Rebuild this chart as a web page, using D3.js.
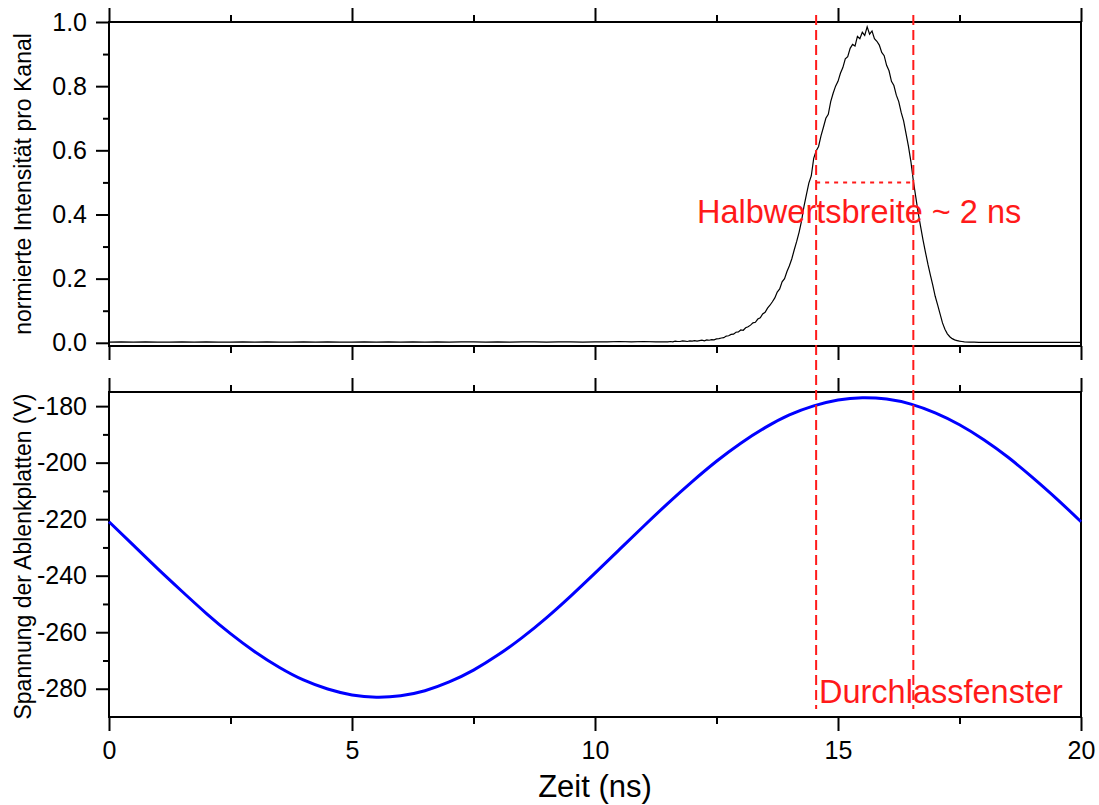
<!DOCTYPE html>
<html>
<head>
<meta charset="utf-8">
<script src="https://cdn.jsdelivr.net/npm/d3@7"></script>
<style>
  body { margin: 0; background: #fff; }
  svg { font-family: "Liberation Sans", Arial, sans-serif; }
</style>
</head>
<body>
<div id="chart"></div>
<script>
// Ticks
var timeTicks = [0, 5, 10, 15, 20];
var timeMinor = [2.5, 7.5, 12.5, 17.5];
var intensityTicks = [0, 0.2, 0.4, 0.6, 0.8, 1.0];
var intensityMinor = [0.1, 0.3, 0.5, 0.7, 0.9];
var voltageTicks = [-280, -260, -240, -220, -200, -180];
var voltageMinor = [-270, -250, -230, -210, -190];

// Durchlassfenster (ns) and half maximum
var windowTimes = [14.55, 16.55];
var halfMax = 0.5;

// Spannung der Ablenkplatten (V), every 0.5 ns
var voltageTime = [0, 0.5, 1, 1.5, 2, 2.5, 3, 3.5, 4, 4.5, 5, 5.5, 6, 6.5, 7, 7.5, 8, 8.5, 9, 9.5, 10,
                   10.5, 11, 11.5, 12, 12.5, 13, 13.5, 14, 14.5, 15, 15.5, 16, 16.5, 17, 17.5, 18, 18.5, 19, 19.5, 20];
var voltage = [-220.9, -229.2, -237.5, -245.5, -253.3, -260.5, -266.9, -272.4, -276.9, -280.1, -282.2,
               -283.0, -282.5, -280.7, -277.6, -273.4, -268.1, -261.9, -254.9, -247.2, -239.1,
               -230.8, -222.5, -214.4, -206.7, -199.5, -193.1, -187.6, -183.1, -179.9, -177.8,
               -177.0, -177.5, -179.3, -182.4, -186.6, -191.9, -198.1, -205.2, -212.8, -220.9];

// normierte Intensitaet: baseline part [t, I]
var baseline = [[0, 0.002], [0.25, 0.003], [0.5, 0.002], [0.75, 0.003], [1, 0.002], [1.25, 0.002], [1.5, 0.003],
  [1.75, 0.002], [2, 0.003], [2.25, 0.002], [2.5, 0.002], [2.75, 0.003], [3, 0.002], [3.25, 0.003], [3.5, 0.002],
  [3.75, 0.002], [4, 0.003], [4.25, 0.002], [4.5, 0.003], [4.75, 0.002], [5, 0.002], [5.25, 0.003], [5.5, 0.002],
  [5.75, 0.003], [6, 0.002], [6.25, 0.003], [6.5, 0.002], [6.75, 0.003], [7, 0.002], [7.25, 0.003], [7.5, 0.003],
  [7.75, 0.002], [8, 0.003], [8.25, 0.002], [8.5, 0.003], [8.75, 0.003], [9, 0.002], [9.25, 0.003], [9.5, 0.003],
  [9.75, 0.002], [10, 0.003], [10.25, 0.003], [10.5, 0.004], [10.75, 0.003], [11, 0.004], [11.25, 0.003]];

// normierte Intensitaet: pulse part [t, I]
var pulse = [[11.5, 0.003], [11.55, 0.004], [11.6, 0.003], [11.65, 0.005], [11.7, 0.004], [11.75, 0.004],
  [11.8, 0.006], [11.85, 0.005], [11.9, 0.004], [11.95, 0.006], [12, 0.005], [12.05, 0.007], [12.1, 0.005],
  [12.15, 0.007], [12.2, 0.008], [12.25, 0.006], [12.3, 0.009], [12.35, 0.008], [12.4, 0.010], [12.45, 0.009],
  [12.5, 0.012], [12.55, 0.013], [12.6, 0.015], [12.65, 0.016], [12.7, 0.021], [12.75, 0.022], [12.8, 0.026],
  [12.85, 0.027], [12.9, 0.033], [12.95, 0.034], [13, 0.040], [13.05, 0.039], [13.1, 0.047], [13.15, 0.050],
  [13.2, 0.055], [13.25, 0.062], [13.3, 0.064], [13.35, 0.074], [13.4, 0.078], [13.45, 0.090], [13.5, 0.095],
  [13.55, 0.108], [13.6, 0.117], [13.65, 0.128], [13.7, 0.140], [13.75, 0.158], [13.8, 0.168], [13.85, 0.190],
  [13.9, 0.200], [13.95, 0.222], [14, 0.240], [14.05, 0.262], [14.1, 0.290], [14.15, 0.316], [14.2, 0.345],
  [14.25, 0.380], [14.3, 0.425], [14.35, 0.462], [14.4, 0.498], [14.45, 0.520], [14.5, 0.575], [14.55, 0.598],
  [14.6, 0.612], [14.65, 0.645], [14.7, 0.672], [14.75, 0.700], [14.8, 0.712], [14.85, 0.752], [14.9, 0.778],
  [14.95, 0.800], [15, 0.815], [15.05, 0.840], [15.1, 0.858], [15.15, 0.885], [15.2, 0.892], [15.25, 0.918],
  [15.3, 0.930], [15.35, 0.925], [15.4, 0.955], [15.45, 0.948], [15.5, 0.968], [15.55, 0.958], [15.6, 0.985],
  [15.65, 0.962], [15.7, 0.972], [15.75, 0.948], [15.8, 0.940], [15.85, 0.928], [15.9, 0.905], [15.95, 0.895],
  [16, 0.865], [16.05, 0.848], [16.1, 0.815], [16.15, 0.802], [16.2, 0.772], [16.25, 0.752], [16.3, 0.718],
  [16.35, 0.692], [16.4, 0.652], [16.45, 0.612], [16.5, 0.565], [16.55, 0.505], [16.6, 0.455], [16.65, 0.405],
  [16.7, 0.362], [16.75, 0.320], [16.8, 0.282], [16.85, 0.245], [16.9, 0.212], [16.95, 0.180], [17, 0.145],
  [17.05, 0.118], [17.1, 0.090], [17.15, 0.062], [17.2, 0.042], [17.25, 0.028], [17.3, 0.019], [17.35, 0.013],
  [17.4, 0.009], [17.45, 0.007], [17.5, 0.005], [17.55, 0.004], [17.6, 0.003], [17.7, 0.002], [17.8, 0.002],
  [17.9, 0.001], [18, 0.001], [18.5, 0.001], [19, 0.001], [19.5, 0.001], [20, 0.001]];

var width = 1099,
    height = 805;

var left = 109, right = 1081;
var top1 = 22, bottom1 = 346;
var top2 = 392, bottom2 = 717;
var red = '#ff1a1a';

var svg = d3.select('#chart')
  .append('svg')
  .attr('width', width)
  .attr('height', height);

var x = d3.scaleLinear().domain([0, 20]).range([left, right]);
var yI = d3.scaleLinear().domain([-0.01, 1.0]).range([bottom1, top1]);
var yV = d3.scaleLinear().domain([-290, -175]).range([bottom2, top2]);

function styleAxis(g, size) {
  g.select('.domain').remove();
  g.selectAll('line').attr('stroke', '#000').attr('stroke-width', 2);
  g.selectAll('text').attr('fill', '#000').style('font-size', size + 'px');
}

function panel(y, yTicks, yMinor, yFmt, top, bottom, labels) {
  // x ticks top
  svg.append('g').attr('transform', 'translate(0,' + top + ')')
    .call(d3.axisTop(x).tickValues(timeTicks).tickSize(14).tickFormat(''))
    .call(styleAxis, 25);
  svg.append('g').attr('transform', 'translate(0,' + top + ')')
    .call(d3.axisTop(x).tickValues(timeMinor).tickSize(7).tickFormat(''))
    .call(styleAxis, 25);
  // x ticks bottom
  svg.append('g').attr('transform', 'translate(0,' + bottom + ')')
    .call(d3.axisBottom(x).tickValues(timeTicks).tickSize(14).tickPadding(10)
      .tickFormat(labels ? d3.format('d') : ''))
    .call(styleAxis, 25);
  svg.append('g').attr('transform', 'translate(0,' + bottom + ')')
    .call(d3.axisBottom(x).tickValues(timeMinor).tickSize(7).tickFormat(''))
    .call(styleAxis, 25);
  // y ticks
  svg.append('g').attr('transform', 'translate(' + left + ',0)')
    .call(d3.axisLeft(y).tickValues(yTicks).tickSize(13).tickPadding(9).tickFormat(yFmt))
    .call(styleAxis, 25);
  svg.append('g').attr('transform', 'translate(' + left + ',0)')
    .call(d3.axisLeft(y).tickValues(yMinor).tickSize(6).tickFormat(''))
    .call(styleAxis, 25);
  // frame
  svg.append('rect')
    .attr('x', left).attr('y', top)
    .attr('width', right - left).attr('height', bottom - top)
    .attr('fill', 'none').attr('stroke', '#000').attr('stroke-width', 2);
}

panel(yI, intensityTicks, intensityMinor, d3.format('.1f'), top1, bottom1, false);
panel(yV, voltageTicks, voltageMinor, function(d) { return String(d) }, top2, bottom2, true);

// Intensitaet
var lineI = d3.line()
  .x(function(d) { return x(d[0]) })
  .y(function(d) { return yI(d[1]) });

svg.append('path')
  .datum(baseline.concat(pulse))
  .attr('d', lineI)
  .attr('fill', 'none')
  .attr('stroke', '#000')
  .attr('stroke-width', 1.2);

// Spannung
var lineV = d3.line()
  .curve(d3.curveNatural)
  .x(function(d, i) { return x(voltageTime[i]) })
  .y(function(d) { return yV(d) });

svg.append('path')
  .datum(voltage)
  .attr('d', lineV)
  .attr('fill', 'none')
  .attr('stroke', '#0000ff')
  .attr('stroke-width', 3);

// Durchlassfenster
svg.selectAll('.window')
  .data(windowTimes)
  .enter()
  .append('line')
  .attr('class', 'window')
  .attr('x1', function(d) { return x(d) })
  .attr('x2', function(d) { return x(d) })
  .attr('y1', 15)
  .attr('y2', 709)
  .attr('stroke', red)
  .attr('stroke-width', 2)
  .attr('stroke-dasharray', '10,5');

svg.append('line')
  .attr('x1', x(windowTimes[0])).attr('x2', x(windowTimes[1]))
  .attr('y1', yI(halfMax)).attr('y2', yI(halfMax))
  .attr('stroke', red)
  .attr('stroke-width', 2)
  .attr('stroke-dasharray', '4,5');

svg.append('text')
  .attr('x', 697).attr('y', 223)
  .attr('fill', red)
  .style('font-size', '32.5px')
  .text('Halbwertsbreite ~ 2 ns');

svg.append('text')
  .attr('x', 819).attr('y', 703)
  .attr('fill', red)
  .style('font-size', '32.5px')
  .text('Durchlassfenster');

// Axis titles
svg.append('text')
  .attr('x', x(10)).attr('y', 797)
  .attr('text-anchor', 'middle')
  .style('font-size', '31px')
  .text('Zeit (ns)');

svg.append('text')
  .attr('transform', 'translate(31,' + ((top1 + bottom1) / 2) + ') rotate(-90)')
  .attr('text-anchor', 'middle')
  .style('font-size', '23px')
  .text('normierte Intensität pro Kanal');

svg.append('text')
  .attr('transform', 'translate(31,' + ((top2 + bottom2) / 2 + 2) + ') rotate(-90)')
  .attr('text-anchor', 'middle')
  .style('font-size', '23px')
  .text('Spannung der Ablenkplatten (V)');
</script>
</body>
</html>
